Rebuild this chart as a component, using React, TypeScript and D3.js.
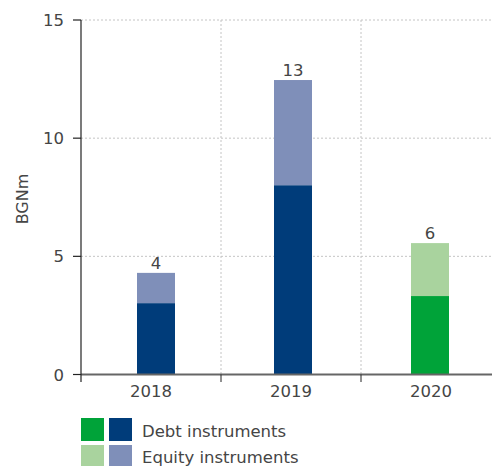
import React from "react";
import * as d3 from "d3";

const categories = ["2018", "2019", "2020"];
const debtValues = [3.02, 8.01, 3.32];
const equityValues = [1.28, 4.45, 2.24];
const totalLabels = ["4", "13", "6"];
const yTicks = [0, 5, 10, 15];
const legendLabels = ["Debt instruments", "Equity instruments"];

const debtColors = ["#003C7A", "#003C7A", "#00A339"];
const equityColors = ["#7F8FB9", "#7F8FB9", "#A9D39E"];

export default function App() {
  const W = 492, H = 466;
  const left = 81, right = 501, top = 20, bottom = 374.5;
  const y = d3.scaleLinear().domain([0, 15]).range([bottom, top]);
  const band = d3.scaleBand().domain(categories).range([left, right]).padding(0);
  const barX = d3.scalePoint().domain(categories).range([156, 430]);
  const barW = 38;
  const font = "'DejaVu Sans', Verdana, sans-serif";
  const textColor = "#454545";
  const fs = 16.5;

  return (
    <svg width={W} height={H} style={{ position: "absolute", left: 0, top: 0 }} fontFamily={font}>
      {/* horizontal grid */}
      {yTicks.filter(t => t > 0).map(t => (
        <line key={"h" + t} x1={left} x2={W} y1={y(t)} y2={y(t)} stroke="#c4c4c4" strokeDasharray="2,2" />
      ))}
      {/* vertical grid */}
      {categories.slice(1).map(c => (
        <line key={"v" + c} x1={band(c)!} x2={band(c)!} y1={top} y2={bottom} stroke="#c4c4c4" strokeDasharray="2,2" />
      ))}
      {/* bars */}
      {categories.map((c, i) => {
        const cx = barX(c)!;
        return (
          <g key={c}>
            <rect x={cx - barW / 2} width={barW} y={y(debtValues[i])} height={y(0) - y(debtValues[i])} fill={debtColors[i]} />
            <rect x={cx - barW / 2} width={barW} y={y(debtValues[i] + equityValues[i])} height={y(debtValues[i]) - y(debtValues[i] + equityValues[i])} fill={equityColors[i]} />
            <text x={cx} y={y(debtValues[i] + equityValues[i]) - 4} textAnchor="middle" fontSize={fs} fill={textColor}>{totalLabels[i]}</text>
          </g>
        );
      })}
      {/* x axis */}
      <line x1={left} x2={W} y1={bottom} y2={bottom} stroke="#666" strokeWidth={2} />
      {categories.slice(1).map(c => (
        <line key={"xt" + c} x1={band(c)!} x2={band(c)!} y1={bottom} y2={382} stroke="#222" strokeWidth={1} />
      ))}
      {categories.map(c => (
        <text key={"xl" + c} x={band(c)! + band.bandwidth() / 2} y={397} textAnchor="middle" fontSize={fs} fill={textColor}>{c}</text>
      ))}
      {/* y axis */}
      <line x1={left} x2={left} y1={top} y2={382} stroke="#222" strokeWidth={1.2} />
      {yTicks.map(t => (
        <g key={"yt" + t}>
          <line x1={73} x2={left} y1={y(t)} y2={y(t)} stroke="#222" strokeWidth={1.2} />
          <text x={64} y={y(t) + 6} textAnchor="end" fontSize={fs} fill={textColor}>{t}</text>
        </g>
      ))}
      <text transform={`translate(28,199) rotate(-90)`} textAnchor="middle" fontSize={16} fill={textColor}>BGNm</text>
      {/* legend */}
      {legendLabels.map((l, i) => (
        <g key={l}>
          <rect x={81} y={418 + i * 27} width={23} height={23} fill={i === 0 ? debtColors[2] : equityColors[2]} />
          <rect x={109} y={418 + i * 27} width={23} height={23} fill={i === 0 ? debtColors[0] : equityColors[0]} />
          <text x={142} y={437 + i * 26} fontSize={fs} fill={textColor}>{l}</text>
        </g>
      ))}
    </svg>
  );
}
